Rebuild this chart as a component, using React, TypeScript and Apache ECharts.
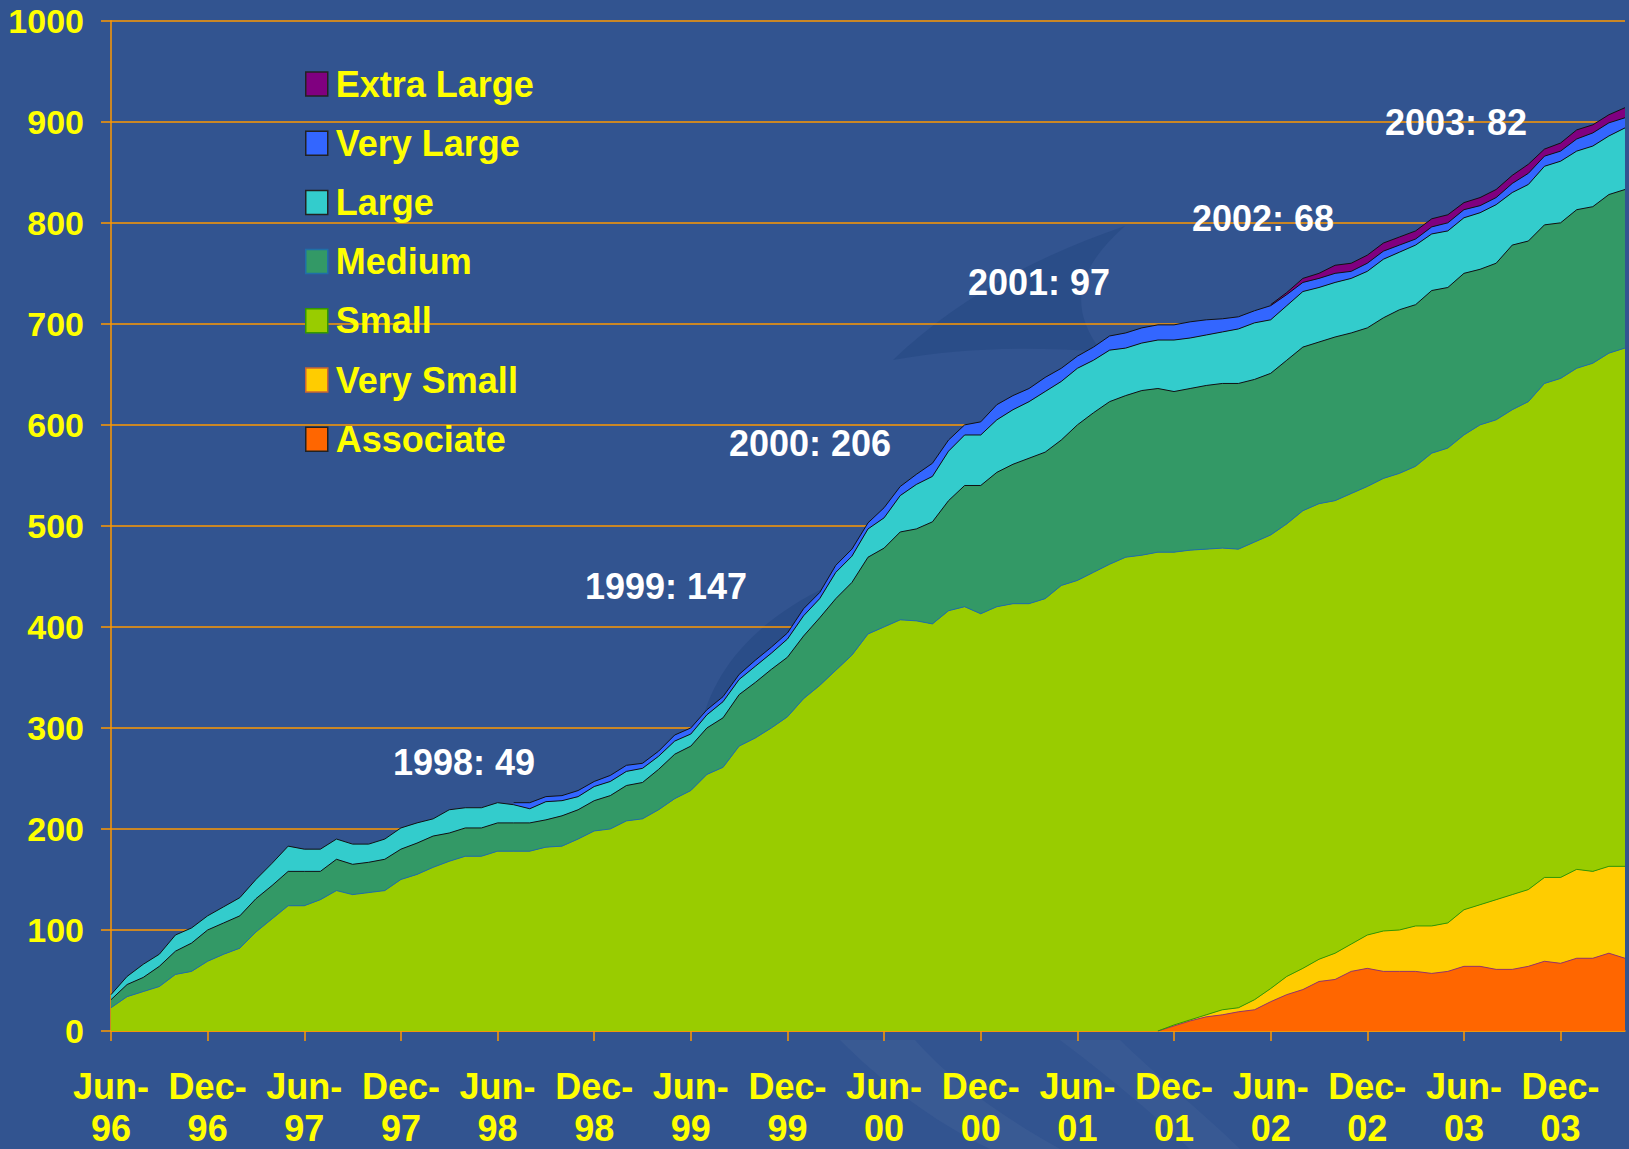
import React, { useEffect, useRef } from 'react';
import * as echarts from 'echarts';

// Months Jun-96 .. Apr-04
const categories = [
  'Jun-96','Jul-96','Aug-96','Sep-96','Oct-96','Nov-96','Dec-96',
  'Jan-97','Feb-97','Mar-97','Apr-97','May-97','Jun-97','Jul-97','Aug-97','Sep-97','Oct-97','Nov-97','Dec-97',
  'Jan-98','Feb-98','Mar-98','Apr-98','May-98','Jun-98','Jul-98','Aug-98','Sep-98','Oct-98','Nov-98','Dec-98',
  'Jan-99','Feb-99','Mar-99','Apr-99','May-99','Jun-99','Jul-99','Aug-99','Sep-99','Oct-99','Nov-99','Dec-99',
  'Jan-00','Feb-00','Mar-00','Apr-00','May-00','Jun-00','Jul-00','Aug-00','Sep-00','Oct-00','Nov-00','Dec-00',
  'Jan-01','Feb-01','Mar-01','Apr-01','May-01','Jun-01','Jul-01','Aug-01','Sep-01','Oct-01','Nov-01','Dec-01',
  'Jan-02','Feb-02','Mar-02','Apr-02','May-02','Jun-02','Jul-02','Aug-02','Sep-02','Oct-02','Nov-02','Dec-02',
  'Jan-03','Feb-03','Mar-03','Apr-03','May-03','Jun-03','Jul-03','Aug-03','Sep-03','Oct-03','Nov-03','Dec-03',
  'Jan-04','Feb-04','Mar-04','Apr-04',
];

const N = null;

const associate = [
  N,N,N,N,N,N,N,N,N,N, N,N,N,N,N,N,N,N,N,N, N,N,N,N,N,N,N,N,N,N,
  N,N,N,N,N,N,N,N,N,N, N,N,N,N,N,N,N,N,N,N, N,N,N,N,N,N,N,N,N,N,
  N,N,N,N,N,0,
  5,10,14,16,19,21,29,36,41,49,
  51,59,62,59,59,59,57,59,64,64,
  61,61,64,69,67,72,72,77,72,
];

const verySmall = [
  N,N,N,N,N,N,N,N,N,N, N,N,N,N,N,N,N,N,N,N, N,N,N,N,N,N,N,N,N,N,
  N,N,N,N,N,N,N,N,N,N, N,N,N,N,N,N,N,N,N,N, N,N,N,N,N,N,N,N,N,N,
  N,N,N,N,N,0,
  1,1,2,5,4,10,13,18,21,22,
  26,27,33,40,41,45,47,48,56,61,
  69,74,76,83,85,88,86,86,91,
];

const small = [
  23,34,39,44,56,59,69,76,82,98,
  111,124,124,130,139,135,137,139,150,155,
  162,168,173,173,178,178,178,182,183,190,
  198,200,208,210,219,230,238,254,261,282,
  290,300,311,329,342,357,372,393,400,407,
  406,403,416,420,413,420,423,423,428,441,
  446,454,462,469,471,474,
  468,465,461,457,454,453,449,448,453,451,
  448,446,444,448,452,455,468,470,470,475,
  475,480,483,489,494,496,503,508,513,
];

const medium = [
  8,12,14,20,23,28,31,31,32,33,
  33,34,34,28,31,30,30,31,30,31,
  31,28,28,28,28,28,28,27,30,29,
  30,33,35,36,40,44,44,46,49,51,
  55,58,59,62,67,71,72,76,78,87,
  91,101,109,120,127,133,138,144,145,144,
  154,158,161,160,163,162,159,160,162,163,
  164,161,160,162,162,160,162,159,157,159,
  162,160,161,159,160,154,155,163,159,157,
  154,157,155,157,157,
];

const large = [
  5,8,13,12,16,15,14,16,18,19,
  22,25,22,22,20,20,18,20,21,20,
  17,23,20,20,20,18,14,18,15,13,
  14,14,14,14,13,13,12,13,16,15,
  16,16,18,20,19,26,26,28,30,36,
  44,45,49,50,50,52,54,56,60,58,
  56,52,51,47,47,48,51,50,50,51,
  54,56,53,54,55,54,54,54,56,58,
  57,59,56,56,55,56,58,52,56,58,
  61,58,60,58,61,
];

const veryLarge = [
  N,N,N,N,N,N,N,N,N,N, N,N,N,N,N,N,N,N,N,N, N,N,N,N,N,
  2,6,5,5,6,
  5,6,6,5,5,6,6,5,5,5,
  6,6,6,7,6,7,7,6,10,9,
  10,13,11,10,13,15,14,13,14,13,
  12,13,14,15,15,15,15,16,15,13,
  12,12,14,11,9,9,9,7,8,8,
  7,6,7,8,8,7,7,9,11,10,
  10,12,13,13,10,
];

const extraLarge = [
  N,N,N,N,N,N,N,N,N,N, N,N,N,N,N,N,N,N,N,N, N,N,N,N,N,N,N,N,N,N,
  N,N,N,N,N,N,N,N,N,N, N,N,N,N,N,N,N,N,N,N, N,N,N,N,N,N,N,N,N,N,
  N,N,N,N,N,N,N,N,N,N, N,N,
  1,2,4,5,8,8,8,8,8,8,
  8,8,7,8,8,8,9,7,8,9,
  8,8,10,
];

const seriesNames = ['Associate', 'Very Small', 'Small', 'Medium', 'Large', 'Very Large', 'Extra Large'];
const seriesData = [associate, verySmall, small, medium, large, veryLarge, extraLarge];
const fillColors = ['#FF6600', '#FFCC00', '#99CC00', '#339966', '#33CCCC', '#3366FF', '#800080'];
const edgeColors = ['#993366', '#339900', '#1F6FA8', '#111111', '#111111', '#111111', '#111111'];
const legendBorders = ['#222222', '#CC6633', '#339900', '#1F6FA8', '#222222', '#222222', '#222222'];

const yTicks = { min: 0, max: 1000, interval: 100 };

const annotationTexts = ['1998: 49', '1999: 147', '2000: 206', '2001: 97', '2002: 68', '2003: 82'];
const annotationPos = [
  [464, 762], [666, 586], [810, 443], [1039, 282], [1263, 218], [1456, 122],
];

// decorative background swooshes (SVG paths, page coordinates)
const swooshPaths = [
  { d: 'M 893 360 C 950 305 1030 258 1125 226 C 1085 262 1062 300 1102 352 C 1030 346 960 348 893 360 Z', fill: '#22457F', opacity: 0.45 },
  { d: 'M 700 730 C 712 672 752 622 830 585 C 800 620 780 660 790 720 Z', fill: '#22457F', opacity: 0.45 },
  { d: 'M 840 1040 C 880 1080 930 1120 990 1149 L 1060 1149 C 1000 1115 950 1080 915 1040 Z', fill: '#FFFFFF', opacity: 0.035 },
  { d: 'M 1060 1040 C 1100 1070 1150 1110 1190 1149 L 1240 1149 C 1200 1110 1150 1070 1120 1040 Z', fill: '#FFFFFF', opacity: 0.03 },
];

let shapesRegistered = false;
function registerShapes() {
  if (shapesRegistered) return;
  swooshPaths.forEach((s, i) => {
    echarts.graphic.registerShape('swoosh' + i, echarts.graphic.extendPath(s.d, {}));
  });
  shapesRegistered = true;
}

export default function App() {
  const ref = useRef<HTMLDivElement>(null);
  useEffect(() => {
    document.body.style.margin = '0';
    registerShapes();
    const el = ref.current!;
    const chart = echarts.init(el, null, { renderer: 'svg' });
    const FONT = '"Liberation Sans", Arial, Helvetica, sans-serif';
    const orange = '#FF9900';

    const series = seriesNames.map((name, i) => ({
      name,
      type: 'line',
      stack: 'total',
      data: seriesData[i],
      symbol: 'none',
      showSymbol: false,
      silent: true,
      lineStyle: { width: 1, color: edgeColors[i] },
      itemStyle: { color: fillColors[i] },
      areaStyle: { color: fillColors[i], opacity: 1 },
      emphasis: { disabled: true },
    }));

    const legendOrder = [...seriesNames].reverse();
    const legendData = legendOrder.map((name) => {
      const idx = seriesNames.indexOf(name);
      return {
        name,
        icon: 'rect',
        itemStyle: { color: fillColors[idx], borderColor: legendBorders[idx], borderWidth: 1.5 },
      };
    });

    const swooshGraphics = swooshPaths.map((s, i) => ({
      type: 'swoosh' + i,
      x: 0,
      y: 0,
      z: -10,
      silent: true,
      style: { fill: s.fill, opacity: s.opacity, stroke: 'none' },
    }));

    const textGraphics = annotationTexts.map((t, i) => ({
      type: 'text',
      x: annotationPos[i][0],
      y: annotationPos[i][1],
      z: 100,
      silent: true,
      style: {
        text: t,
        fill: '#FFFFFF',
        fontSize: 36,
        fontWeight: 'bold',
        fontFamily: FONT,
        align: 'center',
        verticalAlign: 'middle',
        textAlign: 'center',
        textVerticalAlign: 'middle',
      },
    }));

    chart.setOption({
      animation: false,
      backgroundColor: '#325490',
      grid: { left: 111, right: 4, top: 20.8, bottom: 113, containLabel: false },
      legend: {
        orient: 'vertical',
        left: 300,
        top: 61,
        itemWidth: 22,
        itemHeight: 24,
        itemGap: 23.2,
        selectedMode: false,
        data: legendData,
        textStyle: {
          color: '#FFFF00',
          fontSize: 36,
          fontWeight: 'bold',
          fontFamily: FONT,
          lineHeight: 36,
          padding: [0, 0, 0, 3],
        },
      },
      xAxis: {
        type: 'category',
        boundaryGap: false,
        data: categories,
        axisLine: { show: true, lineStyle: { color: orange, width: 1.5 } },
        axisTick: { show: true, interval: 5, length: 10, lineStyle: { color: orange, width: 1.5 } },
        axisLabel: {
          interval: 5,
          color: '#FFFF00',
          fontSize: 36,
          fontWeight: 'bold',
          fontFamily: FONT,
          lineHeight: 42,
          margin: 34,
          formatter: (v: string) => v.replace('-', '-\n'),
        },
        splitLine: { show: false },
      },
      yAxis: {
        type: 'value',
        min: yTicks.min,
        max: yTicks.max,
        interval: yTicks.interval,
        axisLine: { show: true, lineStyle: { color: orange, width: 1.5 } },
        axisTick: { show: true, length: 10, lineStyle: { color: orange, width: 1.5 } },
        axisLabel: {
          color: '#FFFF00',
          fontSize: 34,
          fontWeight: 'bold',
          fontFamily: FONT,
          margin: 27,
          formatter: (v: number) => String(v),
        },
        splitLine: { show: true, lineStyle: { color: orange, width: 1.5 } },
      },
      series,
      graphic: [...swooshGraphics, ...textGraphics],
    });
    return () => chart.dispose();
  }, []);
  return <div ref={ref} style={{ width: 1629, height: 1149, background: '#325490' }} />;
}
